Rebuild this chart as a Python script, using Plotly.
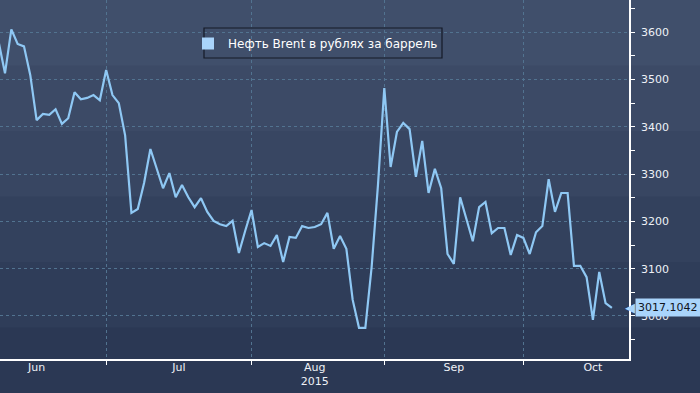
import pandas as pd
import plotly.graph_objects as go

# ---- data ----
dates = pd.bdate_range("2015-06-08", "2015-10-21").strftime("%Y-%m-%d").tolist()
values = [
    # Jun
    3579, 3513, 3606, 3575, 3570, 3509, 3414, 3427, 3425, 3437, 3406, 3418, 3473, 3458, 3461, 3467, 3456,
    # Jul
    3520, 3467, 3450, 3382, 3218, 3226, 3281, 3353, 3313, 3270, 3302, 3251, 3277, 3251, 3230, 3249,
    3220, 3201, 3194, 3190, 3201, 3133, 3180,
    # Aug
    3224, 3146, 3154, 3148, 3171, 3114, 3167, 3165, 3190, 3186, 3188, 3194, 3218, 3142, 3169, 3142,
    3034, 2975, 2975, 3104, 3277,
    # Sep
    3482, 3315, 3389, 3408, 3395, 3294, 3370, 3260, 3311, 3270, 3131, 3110, 3251, 3207, 3158, 3230,
    3241, 3175, 3186, 3186, 3129, 3171,
    # Oct
    3165, 3131, 3177, 3190, 3289, 3220, 3260, 3260, 3106, 3106, 3082, 2992, 3093, 3027, 3017.1042,
]
series_name = "Нефть Brent в рублях за баррель"
y_ticks = [3000, 3100, 3200, 3300, 3400, 3500, 3600]
month_starts = ["2015-07-01", "2015-08-03", "2015-09-01", "2015-10-01"]
month_label_pos = ["2015-06-16", "2015-07-16 12:00", "2015-08-17", "2015-09-16", "2015-10-16"]
month_labels = ["Jun", "Jul", "Aug<br>2015", "Sep", "Oct"]

LINE = "#8fc8f4"
SWATCH = "#a9d4fb"
TXT = "#eef1f6"
GRID = "#527390"
FONT = "DejaVu Sans"

W, H = 700, 393
ML, MR, MT, MB = 0, 71, 0, 34
plot_w = W - ML - MR
plot_h = H - MT - MB
x_range = ["2015-06-08 05:00", "2015-10-23 17:00"]
breaks = [dict(bounds=["sat", "mon"])]

fig = go.Figure()
fig.add_trace(go.Scatter(x=dates, y=values, mode="lines",
                         line=dict(color=LINE, width=2.2), showlegend=False,
                         hoverinfo="skip"))
# legend entry with square swatch (also carries the month-label axis)
fig.add_trace(go.Scatter(x=[dates[0]], y=[None], xaxis="x3", mode="markers", name=series_name,
                         marker=dict(symbol="square", size=12, color=SWATCH)))
# triangle markers on right axis at major ticks
fig.add_trace(go.Scatter(x=[1.009] * len(y_ticks), y=y_ticks, xaxis="x2", mode="markers",
                         marker=dict(symbol="triangle-right", size=7, color="white"),
                         cliponaxis=False, showlegend=False, hoverinfo="skip"))

# background bands (stepped gradient)
top = (64, 79, 107)
bot = (43, 56, 84)
nb = 6
y_top = 1.0
y_bot = -MB / plot_h
for i in range(nb):
    t = i / (nb - 1)
    c = tuple(round(top[k] + (bot[k] - top[k]) * t) for k in range(3))
    y0 = y_top - (y_top - y_bot) * i / nb
    y1 = y_top - (y_top - y_bot) * (i + 1) / nb
    fig.add_shape(type="rect", xref="paper", yref="paper", x0=-0.01, x1=1.2,
                  y0=y1 - 0.002, y1=y0, fillcolor="rgb(%d,%d,%d)" % c,
                  line=dict(width=0), layer="below")

# legend frame
fig.add_shape(type="rect", xref="paper", yref="paper",
              x0=204 / plot_w, x1=442 / plot_w, y0=1 - 58 / plot_h, y1=1 - 28 / plot_h,
              line=dict(color="#141a27", width=1.2), fillcolor="rgba(0,0,0,0)", layer="above")

fig.update_layout(
    width=W, height=H,
    margin=dict(l=ML, r=MR, t=MT, b=MB),
    paper_bgcolor="rgb(%d,%d,%d)" % bot,
    plot_bgcolor="rgba(0,0,0,0)",
    font=dict(family=FONT, size=11, color=TXT),
    legend=dict(x=188 / plot_w, y=1 - 29 / plot_h, xanchor="left", yanchor="top",
                bgcolor="rgba(0,0,0,0)", borderwidth=0,
                font=dict(family=FONT, size=12, color="white"),
                itemwidth=30),
    xaxis=dict(
        type="date", range=x_range, rangebreaks=breaks,
        tickvals=month_starts, ticktext=[""] * len(month_starts),
        showgrid=True, gridcolor=GRID, griddash="dot", gridwidth=1,
        showline=True, linecolor="white", linewidth=1.5,
        ticks="outside", ticklen=4, tickcolor="white",
        zeroline=False, fixedrange=True,
    ),
    xaxis2=dict(overlaying="x", range=[0, 1], visible=False, fixedrange=True),
    xaxis3=dict(
        type="date", overlaying="x", matches="x", anchor="y", side="bottom",
        range=x_range, rangebreaks=breaks,
        tickvals=month_label_pos, ticktext=month_labels,
        showgrid=False, showline=False, ticks="", zeroline=False,
        tickfont=dict(family=FONT, size=11, color=TXT), fixedrange=True,
    ),
    yaxis=dict(
        side="right", range=[2909, 3668],
        tickvals=y_ticks,
        showgrid=True, gridcolor=GRID, griddash="dot", gridwidth=1,
        showline=True, linecolor="white", linewidth=1.5,
        ticks="outside", ticklen=3, tickcolor="white",
        ticklabelstandoff=5,
        minor=dict(dtick=50, tick0=2950, ticks="outside", ticklen=4, tickcolor="white", showgrid=False),
        tickfont=dict(family=FONT, size=11, color=TXT),
        zeroline=False, fixedrange=True,
    ),
)

last = values[-1]
fig.add_annotation(x=1, y=last, xref="paper", yref="y", xshift=6, xanchor="left",
                   text="%.4f" % last, showarrow=False, bgcolor=SWATCH,
                   font=dict(family=FONT, size=11, color="#10131a"), borderpad=2)
fig.add_annotation(x=1, y=last, xref="paper", yref="y", xshift=8, xanchor="right",
                   text="◀", showarrow=False,
                   font=dict(family=FONT, size=13, color=SWATCH))

fig.write_html("out.html")
